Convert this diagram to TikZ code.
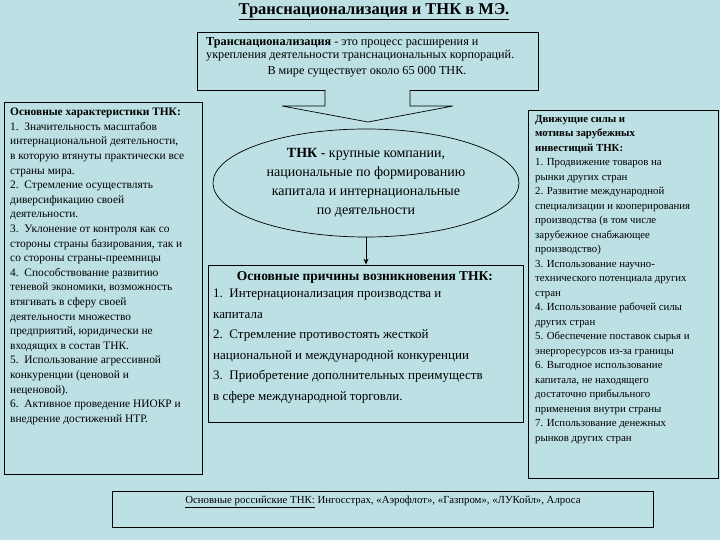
\documentclass[tikz,border=0pt]{standalone}
\usepackage{fontspec}
\setmainfont{Liberation Serif}
\usetikzlibrary{shapes.geometric,arrows.meta}
\definecolor{bg}{HTML}{BCE0E4}
\tikzset{box/.style={draw=black,line width=0.8pt},
 txt/.style={anchor=north west,inner sep=0pt,align=left}}
\begin{document}
\begin{tikzpicture}[x=1pt,y=-1pt]
\fill[bg] (0,0) rectangle (720,540);
\useasboundingbox (0,0) rectangle (720,540);
\node[inner sep=0pt,font=\fontsize{16.5}{18}\selectfont\bfseries] (title) at (374,12) {\underline{Транснационализация и ТНК в МЭ.}};
% top box
\draw[box] (197,32) rectangle (538,90);
\node[txt,font=\fontsize{12.2}{13.5}\selectfont] (toptxt) at (206,37) {\textbf{Транснационализация} - это процесс расширения и\\ укрепления деятельности транснациональных корпораций.};
\node[inner sep=0pt,font=\fontsize{12.2}{13}\selectfont] (topl3) at (367,72) {В мире существует около 65 000 ТНК.};
% block arrow
\draw[line width=0.7pt,fill=bg] (325,90) -- (325,106) -- (282,106) -- (368,122) -- (453,106) -- (410,106) -- (410,90);
% ellipse
\node[ellipse,draw,line width=0.7pt,minimum width=306pt,minimum height=108pt,align=center,inner sep=0pt,font=\fontsize{14}{19}\selectfont] (ell) at (366,183)
 {\textbf{ТНК} - крупные компании,\\ национальные по формированию\\ капитала и интернациональные\\ по деятельности};
% middle box
\node[box,minimum width=315pt,minimum height=157pt,inner sep=0pt] (mid) at (366,343.5) {};
\draw[-{Stealth[length=6pt,width=5pt]},line width=0.8pt] (ell.south) -- (mid.north);
\node[inner sep=0pt,font=\fontsize{13.5}{14}\selectfont\bfseries] (midh) at (365,277) {Основные причины возникновения ТНК:};
\node[txt,font=\fontsize{13}{20.5}\selectfont] (midtxt) at (213,289) {1.\enspace Интернационализация производства и\\ капитала\\ 2.\enspace Стремление противостоять жесткой\\ национальной и международной конкуренции\\ 3.\enspace Приобретение дополнительных преимуществ\\ в сфере международной торговли.};
% left box
\draw[box] (4,102) rectangle (202,474);
\node[txt,font=\fontsize{11.4}{14.6}\selectfont] (lefttxt) at (10,108) {\textbf{Основные характеристики ТНК:}\\ 1.\enspace Значительность масштабов\\ интернациональной деятельности,\\ в которую втянуты практически все\\ страны мира.\\ 2.\enspace Стремление осуществлять\\ диверсификацию своей\\ деятельности.\\ 3.\enspace Уклонение от контроля как со\\ стороны страны базирования, так и\\ со стороны страны-преемницы\\ 4.\enspace Способствование развитию\\ теневой экономики, возможность\\ втягивать в сферу своей\\ деятельности множество\\ предприятий, юридически не\\ входящих в состав ТНК.\\ 5.\enspace Использование агрессивной\\ конкуренции (ценовой и\\ неценовой).\\ 6.\enspace Активное проведение НИОКР и\\ внедрение достижений НТР.};
% right box
\draw[box] (528,110) rectangle (718,478);
\node[txt,font=\fontsize{10.8}{14.5}\selectfont] (righttxt) at (535,115) {\textbf{Движущие силы и}\\ \textbf{мотивы зарубежных}\\ \textbf{инвестиций ТНК:}\\ 1. Продвижение товаров на\\ рынки других стран\\ 2. Развитие международной\\ специализации и кооперирования\\ производства (в том числе\\ зарубежное снабжающее\\ производство)\\ 3. Использование научно-\\ технического потенциала других\\ стран\\ 4. Использование рабочей силы\\ других стран\\ 5. Обеспечение поставок сырья и\\ энергоресурсов из-за границы\\ 6. Выгодное использование\\ капитала, не находящего\\ достаточно прибыльного\\ применения внутри страны\\ 7. Использование денежных\\ рынков других стран};
% bottom box
\draw[box] (112,491) rectangle (653,527);
\node[inner sep=0pt,font=\fontsize{10.8}{12}\selectfont] (bot) at (383,502) {\underline{Основные российские ТНК:} Ингосстрах, «Аэрофлот», «Газпром», «ЛУКойл», Алроса};
\end{tikzpicture}
\end{document}
